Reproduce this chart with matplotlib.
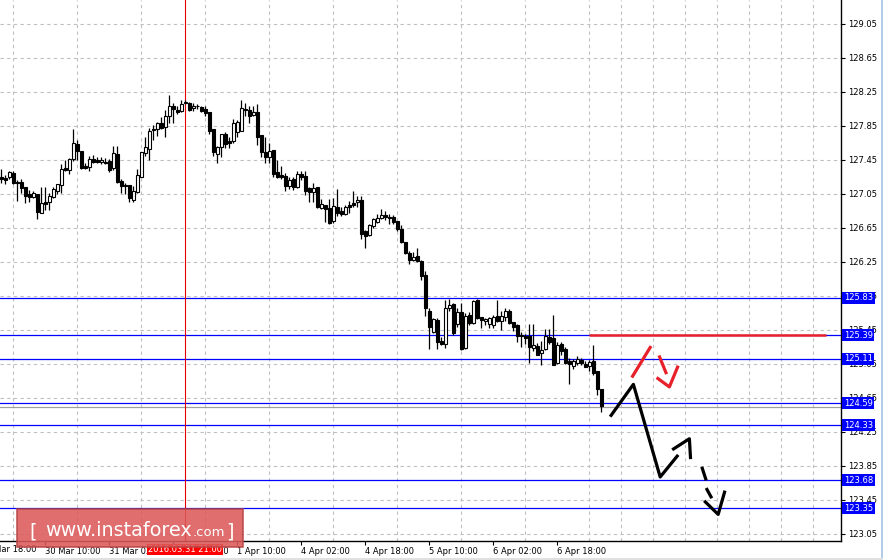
import matplotlib
matplotlib.use("Agg")
import matplotlib.pyplot as plt
from matplotlib.patches import Rectangle

# velas horarias USD/JPY (O, H, L, C)
opens = [127.25, 127.24, 127.25, 127.30, 127.19, 127.19, 127.13, 127.05, 127.01, 127.05,
         126.83, 126.95, 126.95, 127.01, 127.09, 127.15, 127.35, 127.33, 127.46, 127.64,
         127.55, 127.38, 127.37, 127.46, 127.45, 127.43, 127.43, 127.44, 127.35, 127.52,
         127.20, 127.16, 127.16, 126.98, 127.07, 127.25, 127.53, 127.58, 127.81, 127.81,
         127.89, 127.84, 127.97, 128.08, 128.04, 128.03, 128.12, 128.12, 128.06, 128.09,
         128.07, 128.05, 128.02, 127.81, 127.52, 127.60, 127.76, 127.67, 127.67, 127.78,
         127.79, 128.05, 128.04, 127.98, 128.01, 127.74, 127.54, 127.48, 127.57, 127.31,
         127.27, 127.26, 127.14, 127.23, 127.13, 127.28, 127.26, 127.12, 127.07, 127.13,
         126.88, 126.92, 126.88, 126.73, 126.90, 126.85, 126.81, 126.92, 126.94, 126.95,
         126.98, 126.61, 126.57, 126.67, 126.72, 126.77, 126.80, 126.78, 126.78, 126.73,
         126.64, 126.48, 126.36, 126.27, 126.32, 126.26, 126.10, 125.67, 125.43, 125.57,
         125.32, 125.28, 125.71, 125.76, 125.52, 125.66, 125.24, 125.63, 125.53, 125.80,
         125.60, 125.56, 125.52, 125.51, 125.61, 125.56, 125.60, 125.67, 125.54, 125.51,
         125.39, 125.38, 125.38, 125.24, 125.26, 125.18, 125.23, 125.37, 125.36, 125.06,
         125.28, 125.23, 125.08, 125.03, 125.06, 125.10, 125.05, 125.03, 125.08, 124.97,
         124.76]
highs = [127.34, 127.27, 127.32, 127.32, 127.21, 127.23, 127.13, 127.10, 127.08, 127.05,
         127.13, 127.13, 127.06, 127.13, 127.17, 127.40, 127.45, 127.47, 127.81, 127.69,
         127.55, 127.41, 127.50, 127.51, 127.48, 127.48, 127.47, 127.46, 127.62, 127.61,
         127.23, 127.18, 127.16, 127.14, 127.34, 127.54, 127.72, 127.83, 127.86, 127.90,
         127.95, 128.04, 128.21, 128.12, 128.08, 128.15, 128.16, 128.13, 128.12, 128.11,
         128.09, 128.08, 128.02, 127.82, 127.61, 127.76, 127.78, 127.72, 127.93, 127.92,
         128.16, 128.12, 128.09, 128.09, 128.11, 127.74, 127.72, 127.65, 127.57, 127.45,
         127.38, 127.30, 127.25, 127.25, 127.32, 127.32, 127.32, 127.13, 127.18, 127.13,
         126.99, 126.92, 126.99, 127.00, 127.11, 126.90, 126.92, 126.97, 127.08, 127.03,
         127.03, 126.63, 126.70, 126.77, 126.81, 126.87, 126.85, 126.82, 126.80, 126.73,
         126.68, 126.49, 126.38, 126.37, 126.42, 126.27, 126.14, 125.71, 125.59, 125.59,
         125.37, 125.80, 125.82, 125.77, 125.71, 125.77, 125.65, 125.66, 125.80, 125.81,
         125.60, 125.59, 125.60, 125.63, 125.80, 125.67, 125.71, 125.70, 125.54, 125.52,
         125.43, 125.40, 125.52, 125.52, 125.30, 125.32, 125.46, 125.46, 125.63, 125.31,
         125.31, 125.25, 125.12, 125.11, 125.14, 125.12, 125.08, 125.10, 125.27, 124.97,
         124.76]
lows = [127.18, 127.17, 127.23, 127.17, 126.97, 127.06, 126.94, 126.95, 127.00, 126.76,
        126.83, 126.86, 126.86, 127.00, 127.05, 127.06, 127.32, 127.29, 127.44, 127.45,
        127.34, 127.34, 127.32, 127.41, 127.41, 127.40, 127.40, 127.31, 127.33, 127.18,
        127.06, 127.05, 126.95, 126.96, 127.06, 127.25, 127.50, 127.45, 127.68, 127.73,
        127.81, 127.72, 127.88, 127.88, 127.99, 128.02, 128.11, 128.03, 128.03, 128.05,
        128.01, 127.97, 127.76, 127.50, 127.42, 127.49, 127.59, 127.59, 127.65, 127.72,
        127.79, 127.97, 127.88, 127.97, 127.63, 127.48, 127.41, 127.42, 127.25, 127.24,
        127.23, 127.08, 127.11, 127.10, 127.12, 127.22, 127.04, 126.96, 126.96, 126.88,
        126.87, 126.72, 126.70, 126.71, 126.79, 126.79, 126.80, 126.83, 126.90, 126.90,
        126.52, 126.42, 126.56, 126.65, 126.71, 126.76, 126.74, 126.70, 126.70, 126.61,
        126.47, 126.34, 126.23, 126.26, 126.25, 126.04, 125.62, 125.23, 125.41, 125.23,
        125.27, 125.24, 125.67, 125.39, 125.49, 125.22, 125.23, 125.51, 125.52, 125.58,
        125.47, 125.51, 125.47, 125.47, 125.54, 125.45, 125.56, 125.52, 125.44, 125.31,
        125.25, 125.29, 125.06, 125.20, 125.15, 125.04, 125.21, 125.28, 125.04, 125.05,
        125.16, 125.05, 124.82, 124.99, 125.04, 125.04, 125.01, 124.97, 124.92, 124.69,
        124.49]
closes = [127.23, 127.22, 127.31, 127.18, 127.18, 127.12, 127.03, 127.02, 127.06, 126.84,
          126.94, 126.93, 127.03, 127.11, 127.17, 127.34, 127.33, 127.46, 127.65, 127.55,
          127.36, 127.36, 127.46, 127.43, 127.43, 127.45, 127.42, 127.33, 127.53, 127.19,
          127.14, 127.14, 127.00, 127.09, 127.27, 127.54, 127.60, 127.79, 127.80, 127.89,
          127.83, 127.97, 128.08, 128.05, 128.01, 128.11, 128.13, 128.04, 128.09, 128.08,
          128.03, 128.00, 127.79, 127.54, 127.60, 127.76, 127.64, 127.65, 127.88, 127.90,
          128.06, 128.04, 127.97, 128.01, 127.72, 127.54, 127.49, 127.55, 127.29, 127.25,
          127.25, 127.14, 127.21, 127.13, 127.28, 127.25, 127.08, 127.07, 127.12, 126.90,
          126.93, 126.87, 126.71, 126.91, 126.83, 126.81, 126.90, 126.90, 126.92, 126.98,
          126.58, 126.56, 126.68, 126.76, 126.77, 126.80, 126.78, 126.77, 126.72, 126.64,
          126.48, 126.35, 126.27, 126.31, 126.26, 126.08, 125.71, 125.48, 125.58, 125.31,
          125.28, 125.71, 125.74, 125.41, 125.66, 125.23, 125.62, 125.53, 125.79, 125.59,
          125.57, 125.58, 125.59, 125.60, 125.55, 125.62, 125.67, 125.53, 125.49, 125.38,
          125.38, 125.36, 125.25, 125.27, 125.16, 125.21, 125.38, 125.31, 125.04, 125.27,
          125.20, 125.06, 125.05, 125.08, 125.11, 125.06, 125.02, 125.07, 124.94, 124.76,
          124.56]

# niveles horizontales
niveles = [125.83, 125.39, 125.11, 124.59, 124.33, 123.68, 123.35]
ask_line = 124.545
resistencia = 125.39

y_ticks = [123.05, 123.45, 123.85, 124.25, 124.65, 125.05, 125.45, 125.85,
           126.25, 126.65, 127.05, 127.45, 127.85, 128.25, 128.65, 129.05]
x_tick_pos = [11, 27, 43, 59, 75, 91, 107, 123, 139]
x_tick_lbl = ["30 Mar 10:00", "31 Mar 02:00", "31 Mar 18:00", "1 Apr 10:00",
              "4 Apr 02:00", "4 Apr 18:00", "5 Apr 10:00", "6 Apr 02:00", "6 Apr 18:00"]
cursor_idx = 46
cursor_lbl = "2016.03.31 21:00"

# escenario dibujado a mano (indice de vela, precio)
neg1_x = [152.2, 158.0, 164.7, 169.2]
neg1_y = [124.43, 124.81, 123.72, 123.98]
neg2_x = [167.7, 172.0, 172.3]
neg2_y = [124.04, 124.17, 123.93]
neg_dash_x = [[175.1, 176.2], [176.2, 177.6]]
neg_dash_y = [[123.84, 123.68], [123.59, 123.47]]
neg_v_x = [175.7, 179.2, 180.9]
neg_v_y = [123.44, 123.28, 123.56]
rojo1_x = [157.6, 162.4]
rojo1_y = [124.89, 125.26]
rojo2_x = [164.4, 166.3]
rojo2_y = [125.15, 124.93]
rojo_v_x = [163.8, 167.0, 169.2]
rojo_v_y = [124.89, 124.78, 125.03]

W, H = 883, 560
fig = plt.figure(figsize=(W / 100, H / 100), dpi=100)
fig.patch.set_facecolor("white")
ax = fig.add_axes([0, 19 / H, 841 / W, 541 / H])
ax.set_facecolor("white")

n = len(opens)
idx = list(range(n))
ax.set_xlim(-0.33, 209.9)
ax.set_ylim(122.967, 129.332)

# rejilla
ax.set_yticks(y_ticks)
ax.set_yticklabels([f"{v:.2f}" for v in y_ticks])
ax.set_xticks(x_tick_pos)
ax.set_xticklabels(x_tick_lbl, ha="left")
ax.set_xticks(list(range(3, 210, 8)), minor=True)
ax.grid(False)
ax.yaxis.grid(True, color="#c0c0c0", linestyle=(0, (3, 3)), linewidth=0.8)
ax.xaxis.grid(True, which="minor", color="#c0c0c0", linestyle=(0, (3, 3)), linewidth=0.8)
ax.set_axisbelow(True)
ax.yaxis.tick_right()
ax.tick_params(axis="y", direction="out", length=3, width=0.8, pad=2, labelsize=6, colors="black")
ax.tick_params(axis="x", which="major", direction="out", length=3, width=0.8, pad=1, labelsize=6)
ax.tick_params(axis="x", which="minor", length=0)
for lbl in ax.get_xticklabels() + ax.get_yticklabels():
    lbl.set_family("DejaVu Sans")
for s in ["top", "left"]:
    ax.spines[s].set_visible(False)
ax.spines["right"].set_linewidth(1.0)
ax.spines["bottom"].set_linewidth(1.0)

# lineas de nivel
for lv in niveles:
    ax.axhline(lv, color="#0000ff", linewidth=0.9, zorder=2)
ax.axhline(ask_line, color="#a0a0a0", linewidth=0.9, zorder=2)

# cursor
ax.axvline(cursor_idx, color="#e00000", linewidth=0.8, zorder=2)

# velas
ax.vlines(idx, lows, highs, color="black", linewidth=0.9, zorder=3)
for i in idx:
    o, c = opens[i], closes[i]
    fill = "white" if c >= o else "black"
    ax.bar(i, max(abs(c - o), 0.004), bottom=min(o, c), width=0.68,
           color=fill, edgecolor="black", linewidth=0.8, zorder=4)

# resistencia roja y escenario
ax.hlines(resistencia, 146.9, 206.2, color="#e8202a", linewidth=1.8, zorder=5)
kw_n = dict(color="black", linewidth=2.3, solid_capstyle="butt", zorder=6)
kw_r = dict(color="#e8202a", linewidth=2.3, solid_capstyle="butt", zorder=6)
ax.plot(neg1_x, neg1_y, **kw_n)
ax.plot(neg2_x, neg2_y, **kw_n)
for dx, dy in zip(neg_dash_x, neg_dash_y):
    ax.plot(dx, dy, **kw_n)
ax.plot(neg_v_x, neg_v_y, **kw_n)
ax.plot(rojo1_x, rojo1_y, **kw_r)
ax.plot(rojo2_x, rojo2_y, **kw_r)
ax.plot(rojo_v_x, rojo_v_y, **kw_r)

# etiquetas azules de nivel
ytr = ax.get_yaxis_transform()
for lv in niveles:
    ax.text(1.0035, lv, f"{lv:.2f}", transform=ytr, ha="left", va="center",
            fontsize=6, family="DejaVu Sans", color="white", clip_on=False, zorder=10,
            bbox=dict(boxstyle="square,pad=0.18", fc="#0000ff", ec="none"))

# etiqueta parcial a la izquierda y fecha del cursor
xtr = ax.get_xaxis_transform()
ax.text(-5, -0.0065, "29 Mar 18:00", transform=xtr, ha="left", va="top",
        fontsize=6, family="DejaVu Sans", clip_on=False)
ax.text(cursor_idx, -0.0075, cursor_lbl, transform=xtr, ha="center", va="top",
        fontsize=6, family="DejaVu Sans", color="white", clip_on=False, zorder=10,
        bbox=dict(boxstyle="square,pad=0.12", fc="#ff0000", ec="none"))

# marca de agua
fig.patches.append(Rectangle((17 / W, (H - 547) / H), 226 / W, 38 / H,
                             transform=fig.transFigure, facecolor="#dc5a5a",
                             edgecolor="#b84444", linewidth=1.2, alpha=0.88, zorder=20))
wm = dict(color="white", va="baseline", family="DejaVu Sans", zorder=21)
fig.text(29 / W, (H - 537) / H, "[", fontsize=14, **wm)
fig.text(45 / W, (H - 536) / H, "www.instaforex", fontsize=13.8, **wm)
fig.text(193 / W, (H - 536) / H, ".com", fontsize=9.5, **wm)
fig.text(226 / W, (H - 537) / H, "]", fontsize=14, **wm)

# bordes de la ventana
fig.patches.append(Rectangle((881 / W, 0), 2 / W, 1, transform=fig.transFigure,
                             facecolor="#b0cce8", edgecolor="none", zorder=20))
fig.patches.append(Rectangle((0, 0), 1, 2 / H, transform=fig.transFigure,
                             facecolor="#e0e0e0", edgecolor="none", zorder=20))

fig.savefig("out.png", dpi=100)
